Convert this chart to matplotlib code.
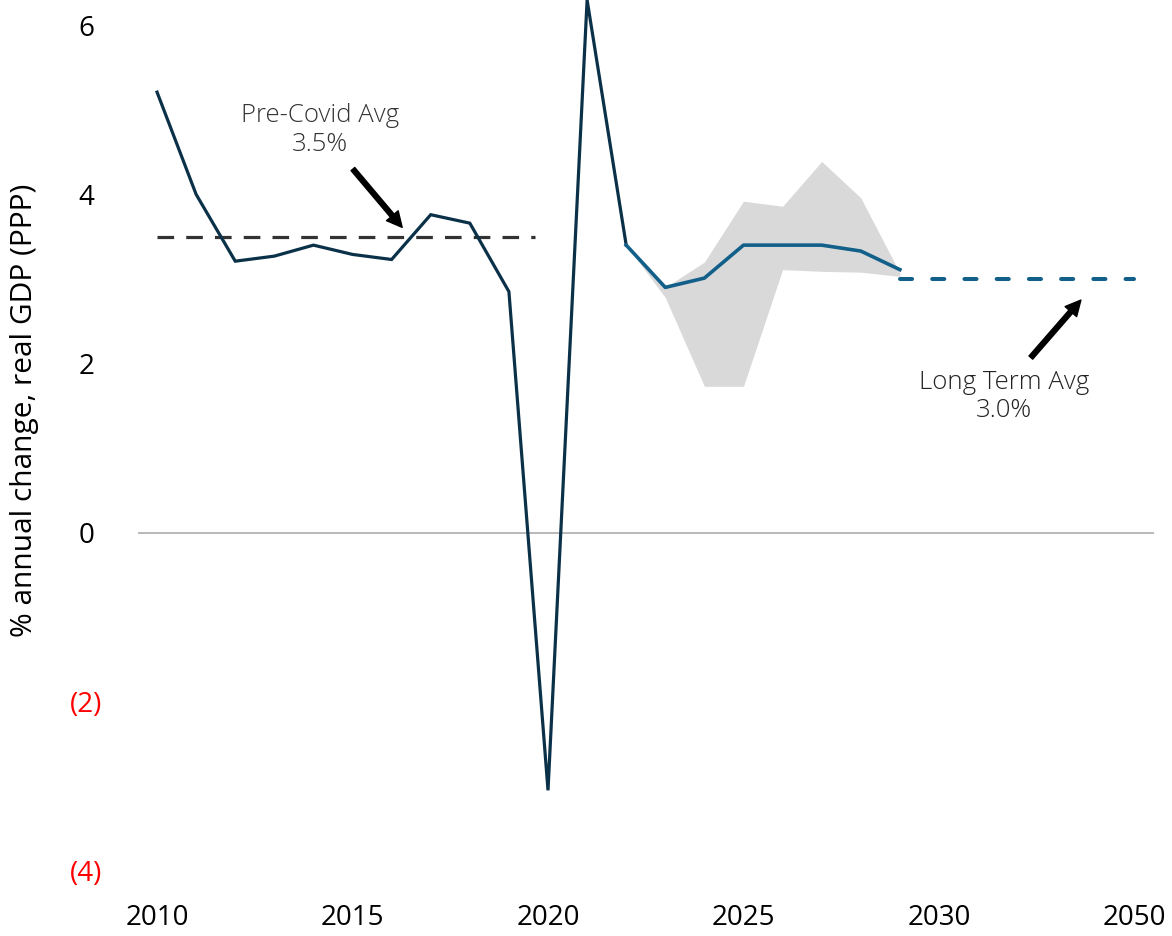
import matplotlib
matplotlib.use("Agg")
import matplotlib.pyplot as plt
import numpy as np

# ---- data --------------------------------------------------------------------
categories = [str(y) for y in range(2010, 2035)] + ["2050"]
tick_labels = ["2010", "2015", "2020", "2025", "2030", "2050"]

hist_years = [str(y) for y in range(2010, 2023)]
hist_gdp = [5.21, 4.00, 3.21, 3.27, 3.40, 3.29, 3.23, 3.76, 3.66, 2.85, -3.05, 6.30, 3.40]

fc_years = [str(y) for y in range(2022, 2030)]
fc_gdp = [3.40, 2.90, 3.01, 3.40, 3.40, 3.40, 3.33, 3.11]
band_hi = [3.40, 2.90, 3.20, 3.92, 3.86, 4.39, 3.96, 3.07]
band_lo = [3.40, 2.78, 1.73, 1.73, 3.11, 3.09, 3.08, 3.03]

pre_covid_avg = 3.5
long_term_avg = 3.0

yticks = [-4, -2, 0, 2, 4, 6]

# ---- style -------------------------------------------------------------------
plt.rcParams["font.family"] = ["Open Sans", "DejaVu Sans"]
NAVY = "#0b3149"
BLUE = "#12608a"
GREY_BAND = "#d9d9d9"

pos = {c: i for i, c in enumerate(categories)}
xh = [pos[y] for y in hist_years]
xf = [pos[y] for y in fc_years]

fig = plt.figure(figsize=(11.72, 9.36), dpi=100)
ax = fig.add_axes([137.5 / 1172, 40 / 936, 1016.5 / 1172, 896 / 936])
ax.set_xlim(-0.5, 25.5)
ax.set_ylim(-4.3, 6.3)

ax.axhline(0, color="#a6a6a6", lw=1.1, zorder=1)

ax.fill_between(xf, band_lo, band_hi, color=GREY_BAND, lw=0, zorder=2)
ax.plot(xh, hist_gdp, color=NAVY, lw=2.3, zorder=4, solid_joinstyle="miter")
ax.plot(xf, fc_gdp, color=BLUE, lw=2.6, zorder=4)

# averages
ax.plot([pos["2010"], pos["2019"] + 0.67], [pre_covid_avg] * 2, color="#333333",
        lw=2.3, dashes=(5.2, 3.8), dash_capstyle="butt", zorder=3)
ax.plot([pos["2029"], pos["2050"]], [long_term_avg] * 2, color=BLUE,
        lw=2.9, dashes=(3.0, 5.0), dash_capstyle="round", zorder=3)

# annotations
ax.text(4.17, 4.76, "Pre-Covid Avg\n3.5%", ha="center", va="center",
        fontsize=18.5, fontweight="light", color="#333333", linespacing=1.2)
ax.annotate("", xy=(6.27, 3.61), xytext=(5.01, 4.30),
            arrowprops=dict(facecolor="black", edgecolor="black", width=3.5,
                            headwidth=11, headlength=11, shrink=0))
ax.text(21.66, 1.61, "Long Term Avg\n3.0%", ha="center", va="center",
        fontsize=18.5, fontweight="light", color="#222222", linespacing=1.2)
ax.annotate("", xy=(23.63, 2.75), xytext=(22.35, 2.07),
            arrowprops=dict(facecolor="black", edgecolor="black", width=3.5,
                            headwidth=11, headlength=11, shrink=0))

# axes
ax.set_xticks([pos[t] for t in tick_labels])
ax.set_xticklabels(tick_labels, fontsize=20)
ax.set_yticks(yticks)
ax.set_yticklabels([f"({abs(v)})" if v < 0 else f"{v}" for v in yticks], fontsize=20)
for lab, v in zip(ax.get_yticklabels(), yticks):
    lab.set_horizontalalignment("center")
    if v < 0:
        lab.set_color("red")
ax.tick_params(axis="y", length=0, pad=37)
ax.tick_params(axis="x", length=0, pad=6)
for s in ax.spines.values():
    s.set_visible(False)

ax.set_ylabel("% annual change, real GDP (PPP)", fontsize=21.5)
ax.yaxis.set_label_coords(-98 / 1016.5, (896 - 410) / 896)

fig.savefig("out.png", dpi=100)
